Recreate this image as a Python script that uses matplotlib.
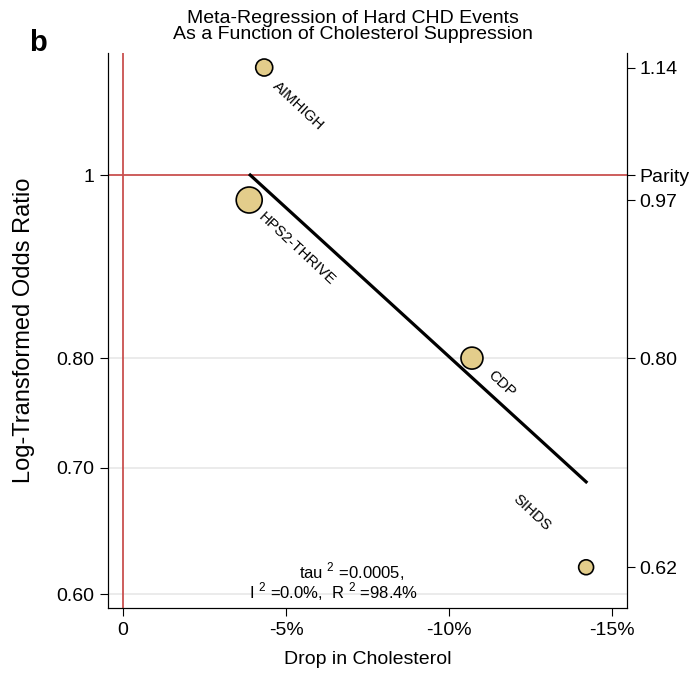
import matplotlib
matplotlib.use("Agg")
import matplotlib.pyplot as plt

plt.rcParams['font.family'] = ['Liberation Sans', 'DejaVu Sans']
plt.rcParams['mathtext.fontset'] = 'custom'
plt.rcParams['mathtext.rm'] = 'Liberation Sans'

# Study data (x = drop in cholesterol, %, y = odds ratio)
studies = ["AIMHIGH", "HPS2-THRIVE", "CDP", "SIHDS"]
chol_drop = [-4.33, -3.87, -10.7, -14.2]
odds_ratio = [1.14, 0.97, 0.80, 0.62]
weights = [150, 350, 250, 115]  # marker area ~ study weight

# Meta-regression fit line end points
fit_x = [-3.9, -14.2]
fit_y = [1.00, 0.688]

left_ticks = [0.60, 0.70, 0.80, 1.0]
left_labels = ["0.60", "0.70", "0.80", "1"]
right_ticks = [1.14, 1.0, 0.97, 0.80, 0.62]
right_labels = ["1.14", "Parity", "0.97", "0.80", "0.62"]
x_ticks = [0, -5, -10, -15]
x_labels = ["0", "-5%", "-10%", "-15%"]

# label offsets in points (dx, dy)
label_offsets = [(24.5, -28), (34, -35), (21.6, -18.7), (-39, 39)]

fig = plt.figure(figsize=(6.9, 6.74), dpi=100)
ax = fig.add_axes([0.1565, 0.098, 0.7525, 0.823])

ax.set_yscale('log')
ax.set_ylim(0.59, 1.16)
ax.set_xlim(0.46, -15.46)

red = '#c9504f'
for yv in [0.60, 0.70, 0.80]:
    ax.axhline(yv, color='#e8e8e8', lw=1.2, zorder=0)
ax.axhline(1.0, color=red, lw=1.3, zorder=1)
ax.axvline(0, color=red, lw=1.3, zorder=1)

ax.plot(fit_x, fit_y, color='black', lw=2.3, zorder=2)

ax.scatter(chol_drop, odds_ratio, s=weights, facecolor='#e3cd8b',
           edgecolor='black', linewidth=1.2, zorder=3)

for name, x, y, off in zip(studies, chol_drop, odds_ratio, label_offsets):
    ax.annotate(name, (x, y), xytext=off, textcoords='offset points',
                ha='center', va='center', rotation=-43, fontsize=10.8,
                rotation_mode='anchor')

ax.set_yticks(left_ticks)
ax.set_yticklabels(left_labels)
ax.minorticks_off()
ax.set_xticks(x_ticks)
ax.set_xticklabels(x_labels)
ax.tick_params(axis='both', direction='out', length=6, width=0.8,
               labelsize=14, pad=4)

ax.spines['top'].set_visible(False)
for s in ['left', 'right', 'bottom']:
    ax.spines[s].set_linewidth(0.8)

ax.set_xlabel("Drop in Cholesterol", fontsize=14, labelpad=9)
ax.set_ylabel("Log-Transformed Odds Ratio", fontsize=17, labelpad=15)

ax2 = ax.twinx()
ax2.set_yscale('log')
ax2.set_ylim(ax.get_ylim())
ax2.set_yticks(right_ticks)
ax2.set_yticklabels(right_labels)
ax2.minorticks_off()
ax2.tick_params(axis='y', direction='out', length=6, width=0.8,
                labelsize=14, pad=3)
ax2.spines['top'].set_visible(False)
ax2.spines['right'].set_linewidth(0.8)

ax.text(-7.0, 0.617, "tau $^{2}$ =0.0005,", ha='center', va='center',
        fontsize=12)
ax.text(-6.45, 0.6015, "I $^{2}$ =0.0%,  R $^{2}$ =98.4%", ha='center',
        va='center', fontsize=12)

fig.text(0.512, 0.961, "Meta-Regression of Hard CHD Events\nAs a Function of Cholesterol Suppression",
         ha='center', va='center', fontsize=14, linespacing=0.95)
fig.text(0.055, 0.936, "b", ha='center', va='center', fontsize=21,
         fontweight='bold')

fig.savefig("out.png", dpi=100)
